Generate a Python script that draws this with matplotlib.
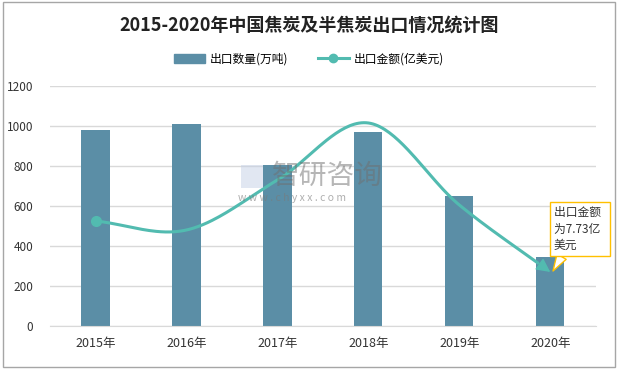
import numpy as np
import matplotlib.pyplot as plt
from matplotlib.lines import Line2D
from matplotlib.patches import Patch

plt.rcParams['font.family'] = ['Noto Sans CJK SC', 'DejaVu Sans']

years = ["2015年", "2016年", "2017年", "2018年", "2019年", "2020年"]
volume = [980, 1010, 805, 970, 650, 345]          # 出口数量(万吨)
value_plot = [525, 480, 730, 1015, 605, 270]      # 出口金额 curve, on chart scale
yticks = [0, 200, 400, 600, 800, 1000, 1200]

BAR_C = "#5b8ea6"
LINE_C = "#52bbb0"


def smooth(xs, ys, n=40, t=0.5):
    # catmull-rom style smoothing like the spreadsheet "smoothed line"
    xs = np.asarray(xs, float)
    ys = np.asarray(ys, float)
    px = np.concatenate([[2 * xs[0] - xs[1]], xs, [2 * xs[-1] - xs[-2]]])
    py = np.concatenate([[2 * ys[0] - ys[1]], ys, [2 * ys[-1] - ys[-2]]])
    ox, oy = [], []
    for i in range(1, len(px) - 2):
        s = np.linspace(0, 1, n)
        for p, out in ((px, ox), (py, oy)):
            p0, p1, p2, p3 = p[i - 1], p[i], p[i + 1], p[i + 2]
            m1 = t * (p2 - p0)
            m2 = t * (p3 - p1)
            h00 = 2 * s**3 - 3 * s**2 + 1
            h10 = s**3 - 2 * s**2 + s
            h01 = -2 * s**3 + 3 * s**2
            h11 = s**3 - s**2
            out.extend(h00 * p1 + h10 * m1 + h01 * p2 + h11 * m2)
    return np.array(ox), np.array(oy)


fig = plt.figure(figsize=(6.18, 3.69), dpi=100)
ax = fig.add_axes([0.081, 0.1165, 0.883, 0.6505])

x = np.arange(len(years))
ax.bar(x, volume, width=0.31, color=BAR_C, zorder=2)

sx, sy = smooth(x, value_plot)
ax.plot(sx[:-5], sy[:-5], color=LINE_C, lw=2.2, zorder=3, solid_capstyle="butt")
ax.annotate("", xy=(sx[-1], sy[-1]), xytext=(sx[-6], sy[-6]),
            arrowprops=dict(arrowstyle="-|>,head_length=0.6,head_width=0.3",
                            color=LINE_C, lw=1, mutation_scale=14,
                            shrinkA=0, shrinkB=0), zorder=3)
ax.plot(x[0], value_plot[0], "o", color=LINE_C, ms=7, zorder=4)

ax.set_xlim(-0.5, 5.5)
ax.set_ylim(0, 1200)
ax.set_yticks(yticks)
ax.set_xticks(x)
ax.set_xticklabels(years, fontsize=9, color="#333333")
ax.tick_params(axis="y", labelsize=8.5, colors="#333333", length=0, pad=12)
ax.tick_params(axis="x", length=0, pad=8)
ax.grid(axis="y", color="#d9d9d9", lw=1, zorder=0)
for s in ["top", "right", "left"]:
    ax.spines[s].set_visible(False)
ax.spines["bottom"].set_color("#d9d9d9")

# callout
ax.annotate("出口金额  \n为7.73亿  \n美元", xy=(x[-1] + 0.03, value_plot[-1] + 5),
            xytext=(5.04, 600), fontsize=8.5, color="#333333", va="top",
            ha="left", linespacing=1.35,
            bbox=dict(boxstyle="square,pad=0.35", fc="white", ec="#ffc000", lw=1),
            arrowprops=dict(arrowstyle="wedge,tail_width=0.9", fc="white",
                            ec="#ffc000", lw=1, relpos=(0.2, 0.0),
                            shrinkA=0, shrinkB=0),
            zorder=5, annotation_clip=False)

# watermark
fig.text(0.44, 0.523, "智研咨询", fontsize=20, color="#6f6f6f", alpha=0.5,
         ha="left", va="center", zorder=10)
fig.text(0.385, 0.463, "w w w . c h y x x . c o m", fontsize=7.5, color="#7a7a7a",
         alpha=0.6, ha="left", va="center", zorder=10)
fig.patches.append(plt.Rectangle((0.39, 0.49), 0.035, 0.062, transform=fig.transFigure,
                                 fc="#c5d0e6", alpha=0.5, ec="none"))

fig.text(0.5, 0.933, "2015-2020年中国焦炭及半焦炭出口情况统计图", fontsize=13,
         fontweight="bold", color="#222222", ha="center", va="center")

handles = [Patch(color=BAR_C),
           Line2D([0], [0], color=LINE_C, lw=2.2, marker="o", ms=6)]
fig.legend(handles, ["出口数量(万吨)", "出口金额(亿美元)"], loc="center",
           bbox_to_anchor=(0.5, 0.84), ncol=2, frameon=False, fontsize=8.5,
           handlelength=2.6, columnspacing=2.5, handletextpad=0.4)

border = plt.Rectangle((0.005, 0.005), 0.99, 0.99, transform=fig.transFigure,
                       fill=False, ec="#a6a6a6", lw=1)
fig.patches.append(border)

fig.savefig("out.png", dpi=100)
